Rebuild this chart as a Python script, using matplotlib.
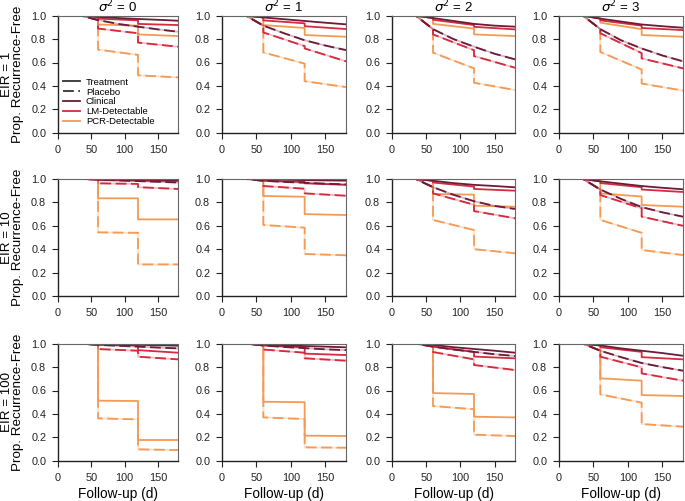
import matplotlib
matplotlib.use("Agg")
import matplotlib.pyplot as plt
from matplotlib.lines import Line2D

plt.rcParams['font.family'] = ['Liberation Sans', 'DejaVu Sans']

EIRS = [1, 10, 100]
SIGMA2 = [0, 1, 2, 3]
XTICKS = [0, 50, 100, 150]
YTICKS = [0.0, 0.2, 0.4, 0.6, 0.8, 1.0]

# Clinical curves: value 1.0 up to day 35, then values at these days
CLIN_DAYS = [0, 35, 60, 90, 120, 150, 180]
# rows = EIR (1, 10, 100), columns = sigma^2 (0..3); values at days 60, 90, 120, 150, 180
clin_trt = [
    [[0.990, 0.980, 0.972, 0.965, 0.957], [0.985, 0.970, 0.955, 0.940, 0.926],
     [0.980, 0.955, 0.930, 0.915, 0.906], [0.975, 0.950, 0.925, 0.910, 0.897]],
    [[0.999, 0.997, 0.995, 0.993, 0.990], [0.997, 0.994, 0.990, 0.988, 0.986],
     [0.985, 0.965, 0.950, 0.940, 0.929], [0.980, 0.960, 0.940, 0.925, 0.912]],
    [[0.998, 0.994, 0.990, 0.987, 0.983], [0.995, 0.988, 0.980, 0.975, 0.969],
     [0.990, 0.970, 0.955, 0.940, 0.923], [0.985, 0.960, 0.940, 0.920, 0.897]],
]
clin_plc = [
    [[0.963, 0.930, 0.906, 0.883, 0.863], [0.915, 0.850, 0.790, 0.745, 0.706],
     [0.885, 0.800, 0.735, 0.675, 0.627], [0.885, 0.790, 0.720, 0.660, 0.610]],
    [[0.995, 0.988, 0.982, 0.976, 0.970], [0.985, 0.975, 0.968, 0.960, 0.954],
     [0.930, 0.865, 0.810, 0.770, 0.744], [0.910, 0.830, 0.760, 0.715, 0.678]],
    [[0.990, 0.982, 0.975, 0.967, 0.960], [0.985, 0.972, 0.962, 0.952, 0.945],
     [0.975, 0.950, 0.930, 0.910, 0.895], [0.940, 0.885, 0.835, 0.800, 0.769]],
]

# Detectable curves: follow clinical until day 60; values after 60, before 120, after 120, at 180
DET_DAYS = [60, 120, 120, 180]
lm_trt = [
    [[0.975, 0.960, 0.930, 0.920], [0.960, 0.935, 0.910, 0.886],
     [0.965, 0.920, 0.905, 0.883], [0.960, 0.915, 0.895, 0.877]],
    [[0.990, 0.987, 0.985, 0.983], [0.985, 0.975, 0.963, 0.950],
     [0.970, 0.935, 0.915, 0.900], [0.965, 0.930, 0.910, 0.889]],
    [[0.990, 0.985, 0.945, 0.923], [0.985, 0.970, 0.915, 0.903],
     [0.975, 0.930, 0.890, 0.875], [0.970, 0.930, 0.885, 0.866]],
]
lm_plc = [
    [[0.890, 0.850, 0.770, 0.735], [0.857, 0.740, 0.720, 0.610],
     [0.840, 0.705, 0.655, 0.555], [0.850, 0.680, 0.635, 0.550]],
    [[0.963, 0.958, 0.930, 0.915], [0.940, 0.917, 0.877, 0.857],
     [0.877, 0.780, 0.726, 0.664], [0.863, 0.749, 0.678, 0.600]],
    [[0.954, 0.940, 0.889, 0.866], [0.950, 0.923, 0.875, 0.855],
     [0.929, 0.866, 0.818, 0.775], [0.889, 0.798, 0.746, 0.684]],
]
pcr_trt = [
    [[0.925, 0.915, 0.840, 0.826], [0.920, 0.895, 0.835, 0.820],
     [0.930, 0.890, 0.840, 0.826], [0.940, 0.885, 0.835, 0.820]],
    [[0.835, 0.835, 0.655, 0.655], [0.855, 0.848, 0.700, 0.692],
     [0.872, 0.866, 0.772, 0.763], [0.877, 0.850, 0.778, 0.763]],
    [[0.513, 0.510, 0.177, 0.177], [0.504, 0.500, 0.214, 0.211],
     [0.578, 0.570, 0.376, 0.370], [0.704, 0.684, 0.561, 0.553]],
]
pcr_plc = [
    [[0.710, 0.665, 0.490, 0.473], [0.686, 0.590, 0.440, 0.390],
     [0.684, 0.550, 0.427, 0.365], [0.690, 0.540, 0.420, 0.360]],
    [[0.544, 0.540, 0.270, 0.270], [0.607, 0.584, 0.359, 0.348],
     [0.650, 0.564, 0.400, 0.365], [0.650, 0.540, 0.393, 0.350]],
    [[0.362, 0.353, 0.097, 0.091], [0.370, 0.356, 0.114, 0.111],
     [0.467, 0.440, 0.222, 0.211], [0.567, 0.496, 0.313, 0.291]],
]

C_CLIN = '#6e1a38'
C_LM = '#d62a3e'
C_PCR = '#f59a55'

W, H = 685, 501
fig = plt.figure(figsize=(W / 100, H / 100), dpi=100)

col_px = [(58, 178), (222, 346), (392, 515), (559, 683)]
row_px = [(15.7, 132.7), (179, 296), (343.7, 460.7)]


def draw(ax, xs, ys, color, dashed):
    if dashed:
        ax.plot(xs, ys, color=color, lw=1.3, alpha=0.3, solid_capstyle='butt')
        ax.plot(xs, ys, color=color, lw=1.3, dashes=(6, 2.5))
    else:
        ax.plot(xs, ys, color=color, lw=1.3)


for r, eir in enumerate(EIRS):
    for c, s2 in enumerate(SIGMA2):
        x0, x1 = col_px[c]
        yt, yb = row_px[r]
        ax = fig.add_axes([x0 / W, 1 - yb / H, (x1 - x0) / W, (yb - yt) / H])
        for clin, lm, pcr, dashed in [
            (clin_trt, lm_trt, pcr_trt, False),
            (clin_plc, lm_plc, pcr_plc, True),
        ]:
            cv = [1.0, 1.0] + clin[r][c]
            pre_x = CLIN_DAYS[:3]
            pre_y = cv[:3]
            draw(ax, pre_x + DET_DAYS, pre_y + pcr[r][c], C_PCR, dashed)
            draw(ax, pre_x + DET_DAYS, pre_y + lm[r][c], C_LM, dashed)
            draw(ax, CLIN_DAYS, cv, C_CLIN, dashed)
        ax.set_xlim(0, 180)
        ax.set_ylim(0, 1)
        ax.set_xticks(XTICKS)
        ax.set_yticks(YTICKS)
        ax.set_yticklabels([f'{v:.1f}' for v in YTICKS])
        ax.tick_params(labelsize=7.8, length=4.5, width=0.8, pad=4, colors='#222222')
        for sp in ['left', 'bottom']:
            ax.spines[sp].set_color('#222222')
            ax.spines[sp].set_linewidth(1.0)
        for sp in ['top', 'right']:
            ax.spines[sp].set_color('#666666')
            ax.spines[sp].set_linewidth(0.8)
        if r == 0:
            ax.set_title(rf'$\sigma^2$ = {s2}', fontsize=9.5, pad=1.5)
        if r == 2:
            ax.set_xlabel('Follow-up (d)', fontsize=9.8, labelpad=3)
        if c == 0:
            yc = 1 - (yt + yb) / 2 / H
            fig.text(12.5 / W, yc, f'EIR = {eir}\nProp. Recurrence-Free', rotation=90,
                     ha='center', va='center', multialignment='center',
                     fontsize=9.6, linespacing=0.95)
        if r == 0 and c == 0:
            handles = [
                Line2D([], [], color='#333333', lw=1.3),
                Line2D([], [], color='#333333', lw=1.3, dashes=(6, 2.5)),
                Line2D([], [], color=C_CLIN, lw=1.3),
                Line2D([], [], color=C_LM, lw=1.3),
                Line2D([], [], color=C_PCR, lw=1.3),
            ]
            ax.legend(handles, ['Treatment', 'Placebo', 'Clinical', 'LM-Detectable', 'PCR-Detectable'],
                      loc='lower left', bbox_to_anchor=(0.02, 0.03), frameon=False, fontsize=6.8,
                      handlelength=1.8, handletextpad=0.6, labelspacing=0.1, borderaxespad=0.2,
                      borderpad=0.1)

fig.savefig('out.png', dpi=100)
